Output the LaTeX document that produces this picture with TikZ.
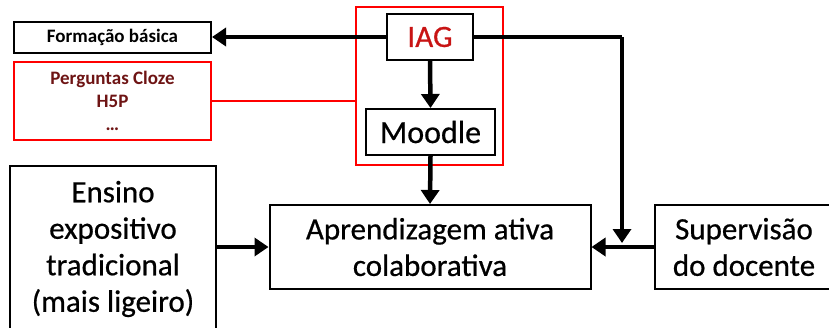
\documentclass[tikz,border=0pt]{standalone}
\usepackage{fontspec}
\setmainfont{Carlito}
\newfontfamily\heavy[FakeBold=0.6]{Carlito}
\usetikzlibrary{arrows.meta,positioning}
\definecolor{maroon}{RGB}{110,20,20}
\definecolor{iagred}{RGB}{200,20,20}
\tikzset{
  bx/.style={draw=black, line width=2pt, align=center, inner sep=0pt},
  big/.style={font=\heavy\fontsize{31}{36.5}\selectfont},
  arr/.style={line width=4.5pt, -{Triangle[length=14pt,width=18pt]}},
  conn/.style={line width=4.5pt},
}
\begin{document}
\begin{tikzpicture}[x=1pt,y=-1pt]
\useasboundingbox (0,0) rectangle (829,327);
% red grouping box
\node[draw=red, line width=1.2pt, minimum width=147pt, minimum height=158pt, inner sep=0pt] (grp) at (429.5,86) {};
\node[bx, minimum width=197pt, minimum height=31pt, font=\fontsize{19}{22}\selectfont\bfseries] (form) at (112.5,37) {Formação básica};
\node[bx, draw=red, line width=2.5pt, minimum width=197pt, minimum height=78pt, text=maroon, font=\fontsize{19}{23}\selectfont\bfseries] (perg) at (112.5,101) {Perguntas Cloze\\H5P\\\dots};
\node[bx, minimum width=86pt, minimum height=46pt, text=iagred, font=\heavy\fontsize{31}{36}\selectfont] (iag) at (430,37) {IAG};
\node[bx, minimum width=129pt, minimum height=46pt, font=\heavy\fontsize{32}{36}\selectfont] (moodle) at (430.5,132) {Moodle};
\node[bx, big, minimum width=321pt, minimum height=84pt] (apr) at (430,247) {Aprendizagem ativa\\colaborativa};
\node[bx, big, minimum width=206pt, minimum height=166pt] (ens) at (113,249) {Ensino\\expositivo\\tradicional\\(mais ligeiro)};
\node[bx, big, minimum width=178pt, minimum height=84pt] (sup) at (744,247) {Supervisão\\do docente};
\coordinate (corner) at (622,37);
\coordinate (drop) at (622,243);
\draw[red, line width=1.2pt] (perg.east) -- (grp.west |- perg.east);
\draw[arr] (iag.west) -- (form.east);
\draw[conn] (iag.east) -- (corner);
\draw[arr] (corner) -- (drop);
\draw[arr] (iag.south) -- (moodle.north);
\draw[arr] (moodle.south) -- (apr.north);
\draw[arr] (ens.east |- apr.west) -- (apr.west);
\draw[arr] (sup.west) -- (apr.east);
\end{tikzpicture}
\end{document}
